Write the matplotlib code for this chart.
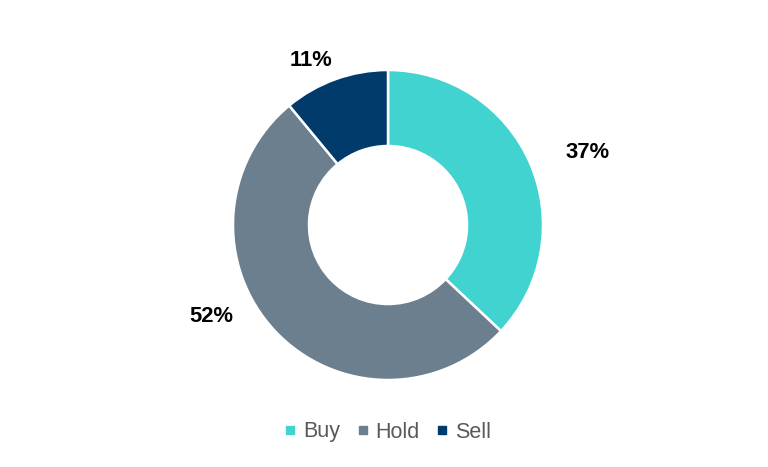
import matplotlib
matplotlib.use("Agg")
import matplotlib.pyplot as plt
import numpy as np

categories = ["Buy", "Hold", "Sell"]
values = [37, 52, 11]
labels = ["37%", "52%", "11%"]
colors = ["#41D3D0", "#6B7F8E", "#003B6C"]

plt.rcParams['font.family'] = ['Liberation Sans', 'DejaVu Sans']

fig = plt.figure(figsize=(7.68, 4.67), dpi=100)
cx, cy, half = 388, 225, 160
ax = fig.add_axes([(cx - half) / 768, (467 - cy - half) / 467, 2 * half / 768, 2 * half / 467])
R = 155 / half
wedges, _ = ax.pie(values, colors=colors, startangle=90, counterclock=False,
                   radius=R, wedgeprops=dict(width=R * (1 - 79 / 155), edgecolor='white', linewidth=1.8))
ax.set_xlim(-1, 1)
ax.set_ylim(-1, 1)
ax.set_aspect('equal')
ax.axis('off')

label_pos = [(20.0, 212), (207.5, 199), (115.0, 182)]
for lab, (ang, r) in zip(labels, label_pos):
    a = np.deg2rad(ang)
    ax.text(r / half * np.cos(a), r / half * np.sin(a), lab, ha='center', va='center',
            fontsize=15.8, fontweight='bold', color='black')

handles = [plt.Line2D([0], [0], marker='s', linestyle='none', markersize=6,
                      markerfacecolor=c, markeredgecolor=c) for c in colors]
fig.legend(handles, categories, loc='center', bbox_to_anchor=(388 / 768, (467 - 432) / 467),
           ncol=3, frameon=False, fontsize=15.5, handlelength=0.5, handletextpad=0.35,
           columnspacing=0.8, labelcolor='#595959')

fig.savefig("out.png", dpi=100, facecolor='white')
